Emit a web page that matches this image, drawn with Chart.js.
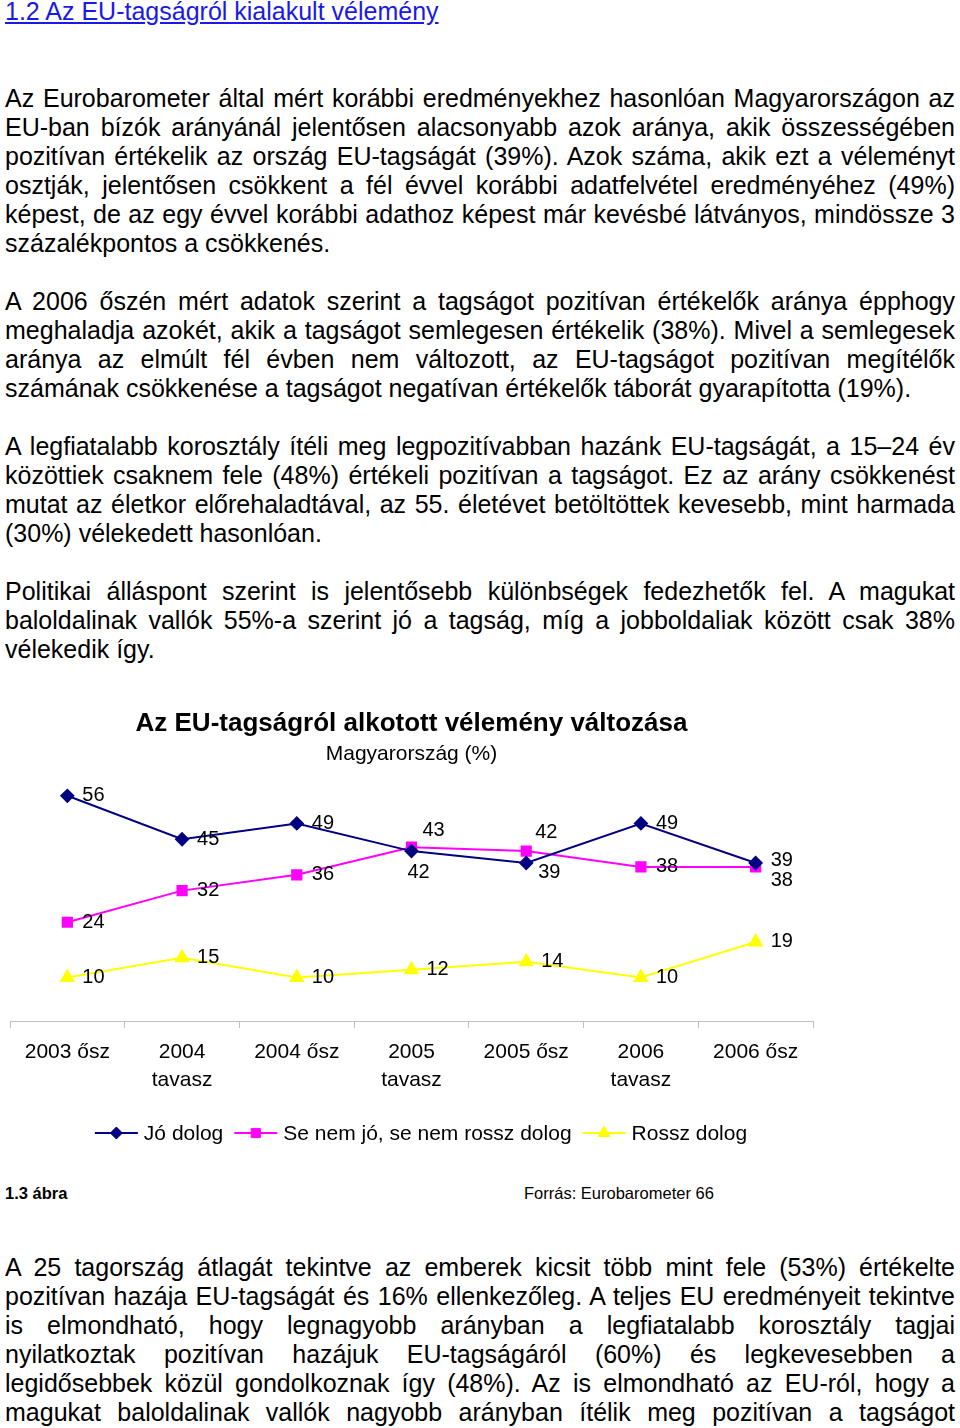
<!DOCTYPE html>
<html lang="hu">
<head>
<meta charset="utf-8">
<script src="https://cdn.jsdelivr.net/npm/chart.js@4/dist/chart.umd.min.js"></script>
<style>
  html, body { margin: 0; padding: 0; background: #fff; }
  body { width: 960px; height: 1428px; position: relative; overflow: hidden;
         font-family: "Liberation Sans", Arial, sans-serif; color: #000; }
  .txt { position: absolute; left: 5px; width: 950px; font-size: 25px; line-height: 29px; }
  .txt .l { text-align: justify; text-align-last: justify; }
  .txt .e { text-align: left; }
  #heading { position: absolute; left: 5px; top: -3px; font-size: 25px; line-height: 29px;
             color: #1a1ae6; text-decoration: underline; white-space: nowrap; }
  #chartWrap { position: absolute; left: 0; top: 700px; width: 824px; height: 470px; }
  #fig { position: absolute; left: 5px; top: 1183px; font-size: 16.5px; font-weight: bold; line-height: 20px; }
  #src { position: absolute; left: 524px; top: 1183px; font-size: 16.5px; line-height: 20px; }
</style>
</head>
<body>
<div id="heading">1.2 Az EU-tagságról kialakult vélemény</div>

<div class="txt" style="top:83.5px">
  <div class="l">Az Eurobarometer által mért korábbi eredményekhez hasonlóan Magyarországon az</div>
  <div class="l">EU-ban bízók arányánál jelentősen alacsonyabb azok aránya, akik összességében</div>
  <div class="l">pozitívan értékelik az ország EU-tagságát (39%). Azok száma, akik ezt a véleményt</div>
  <div class="l">osztják, jelentősen csökkent a fél évvel korábbi adatfelvétel eredményéhez (49%)</div>
  <div class="l">képest, de az egy évvel korábbi adathoz képest már kevésbé látványos, mindössze 3</div>
  <div class="e">százalékpontos a csökkenés.</div>
</div>

<div class="txt" style="top:286.5px">
  <div class="l">A 2006 őszén mért adatok szerint a tagságot pozitívan értékelők aránya épphogy</div>
  <div class="l">meghaladja azokét, akik a tagságot semlegesen értékelik (38%). Mivel a semlegesek</div>
  <div class="l">aránya az elmúlt fél évben nem változott, az EU-tagságot pozitívan megítélők</div>
  <div class="e">számának csökkenése a tagságot negatívan értékelők táborát gyarapította (19%).</div>
</div>

<div class="txt" style="top:431.5px">
  <div class="l">A legfiatalabb korosztály ítéli meg legpozitívabban hazánk EU-tagságát, a 15–24 év</div>
  <div class="l">közöttiek csaknem fele (48%) értékeli pozitívan a tagságot. Ez az arány csökkenést</div>
  <div class="l">mutat az életkor előrehaladtával, az 55. életévet betöltöttek kevesebb, mint harmada</div>
  <div class="e">(30%) vélekedett hasonlóan.</div>
</div>

<div class="txt" style="top:576.5px">
  <div class="l">Politikai álláspont szerint is jelentősebb különbségek fedezhetők fel. A magukat</div>
  <div class="l">baloldalinak vallók 55%-a szerint jó a tagság, míg a jobboldaliak között csak 38%</div>
  <div class="e">vélekedik így.</div>
</div>

<div id="chartWrap"><canvas id="chart" width="824" height="470"></canvas></div>

<div id="fig">1.3 ábra</div>
<div id="src">Forrás: Eurobarometer 66</div>

<div class="txt" style="top:1252.5px">
  <div class="l">A 25 tagország átlagát tekintve az emberek kicsit több mint fele (53%) értékelte</div>
  <div class="l">pozitívan hazája EU-tagságát és 16% ellenkezőleg. A teljes EU eredményeit tekintve</div>
  <div class="l">is elmondható, hogy legnagyobb arányban a legfiatalabb korosztály tagjai</div>
  <div class="l">nyilatkoztak pozitívan hazájuk EU-tagságáról (60%) és legkevesebben a</div>
  <div class="l">legidősebbek közül gondolkoznak így (48%). Az is elmondható az EU-ról, hogy a</div>
  <div class="l">magukat baloldalinak vallók nagyobb arányban ítélik meg pozitívan a tagságot</div>
</div>

<script>
// ---- Data ----
const categories = [
  "2003 ősz", ["2004", "tavasz"], "2004 ősz", ["2005", "tavasz"],
  "2005 ősz", ["2006", "tavasz"], "2006 ősz"
];
const seriesNames = ["Jó dolog", "Se nem jó, se nem rossz dolog", "Rossz dolog"];
const joDolog       = [56, 45, 49, 42, 39, 49, 39];
const semlegesDolog = [24, 32, 36, 43, 42, 38, 38];
const rosszDolog    = [10, 15, 10, 12, 14, 10, 19];
const chartTitle = "Az EU-tagságról alkotott vélemény változása";
const chartSubtitle = "Magyarország (%)";

// ---- Label placement (style only: pixel offsets from the point) ----
const D = [15, 0];
const labelOffsets = [
  [D, D, D, [-4, 21], [12, 10], D, [15, -2]],
  [D, D, D, [11, -17], [9, -19], D, [15, 14]],
  [D, D, D, D, D, D, D]
];

const FONT = '"Liberation Sans", Arial, sans-serif';

function drawMarker(ctx, style, r, x, y) {
  Chart.helpers.drawPoint(ctx, { pointStyle: style, radius: r, borderWidth: 1, rotation: 0 }, x, y);
}

const labelPlugin = {
  id: 'pointLabels',
  afterDatasetsDraw(chart) {
    const ctx = chart.ctx;
    ctx.save();
    ctx.font = '20px ' + FONT;
    ctx.fillStyle = '#000';
    ctx.textAlign = 'left';
    ctx.textBaseline = 'middle';
    chart.data.datasets.forEach((ds, di) => {
      const meta = chart.getDatasetMeta(di);
      meta.data.forEach((pt, i) => {
        const off = labelOffsets[di][i];
        ctx.fillText(String(ds.data[i]), pt.x + off[0], pt.y + off[1]);
      });
    });
    ctx.restore();
  }
};

const legendPlugin = {
  id: 'lineLegend',
  afterDraw(chart) {
    const ctx = chart.ctx;
    ctx.save();
    ctx.font = '21px ' + FONT;
    ctx.textBaseline = 'middle';
    const lineLen = 43, gapText = 6, gapItem = 11;
    const items = chart.data.datasets.map(ds => ({ ds, w: ctx.measureText(ds.label).width }));
    const total = items.reduce((s, it) => s + lineLen + gapText + it.w, 0) + gapItem * (items.length - 1);
    let x = 421 - total / 2;
    const y = 433;
    items.forEach(it => {
      const ds = it.ds;
      ctx.strokeStyle = ds.borderColor;
      ctx.lineWidth = 2;
      ctx.beginPath();
      ctx.moveTo(x, y);
      ctx.lineTo(x + lineLen, y);
      ctx.stroke();
      ctx.fillStyle = ds.pointBackgroundColor;
      ctx.strokeStyle = ds.pointBorderColor;
      ctx.lineWidth = 1;
      drawMarker(ctx, ds.pointStyle, ds.pointRadius, x + lineLen / 2, y);
      ctx.fillStyle = '#000';
      ctx.fillText(ds.label, x + lineLen + gapText, y + 1);
      x += lineLen + gapText + it.w + gapItem;
    });
    ctx.restore();
  }
};

const mkDs = (label, data, color, style, radius) => ({
  label, data,
  borderColor: color, backgroundColor: color,
  pointBackgroundColor: color, pointBorderColor: color,
  pointStyle: style, pointRadius: radius, pointHoverRadius: radius,
  borderWidth: 2, tension: 0, fill: false
});

new Chart(document.getElementById('chart'), {
  type: 'line',
  data: {
    labels: categories,
    datasets: [
      mkDs(seriesNames[0], joDolog, '#000080', 'rectRot', 6),
      mkDs(seriesNames[1], semlegesDolog, '#FF00FF', 'rect', 6.5),
      mkDs(seriesNames[2], rosszDolog, '#FFFF00', 'triangle', 7)
    ]
  },
  options: {
    responsive: false,
    animation: false,
    events: [],
    layout: { padding: { left: 10, right: 11, top: 0, bottom: 69 } },
    plugins: {
      legend: { display: false },
      tooltip: { enabled: false },
      title: {
        display: true, text: chartTitle, color: '#000',
        font: { family: FONT, size: 26, weight: 'bold', lineHeight: 1.2 },
        padding: { top: 8, bottom: 0 }
      },
      subtitle: {
        display: true, text: chartSubtitle, color: '#000',
        font: { family: FONT, size: 21, weight: 'normal', lineHeight: 1.2 },
        padding: { top: 2, bottom: 13.6 }
      }
    },
    scales: {
      x: {
        type: 'category',
        offset: true,
        afterFit: (axis) => { axis.height = 80; },
        grid: { drawOnChartArea: false, drawTicks: true, tickLength: 7, color: '#c0c0c0', offset: true },
        border: { display: true, color: '#c0c0c0', width: 1 },
        ticks: {
          color: '#000', padding: 10, maxRotation: 0, autoSkip: false,
          font: { family: FONT, size: 21, lineHeight: 1.333 }
        }
      },
      y: {
        display: false,
        min: -1, max: 60
      }
    }
  },
  plugins: [labelPlugin, legendPlugin]
});
</script>
</body>
</html>
